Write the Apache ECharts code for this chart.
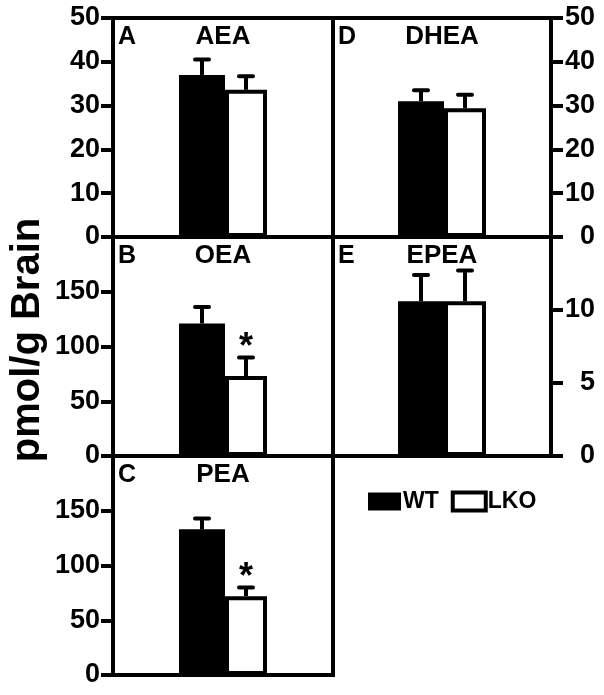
<!DOCTYPE html>
<html><head><meta charset="utf-8">
<script src="https://cdn.jsdelivr.net/npm/echarts@6/dist/echarts.min.js"></script>
<style>html,body{margin:0;padding:0;background:#fff}#c{width:604px;height:695px}</style>
</head><body><div id="c"></div>
<script>
// ---- data ----
const panels = ['AEA', 'OEA', 'PEA', 'DHEA', 'EPEA'];
const letters = ['A', 'B', 'C', 'D', 'E'];
const groups = ['WT', 'LKO'];
const wtMean = [37.0, 121, 133, 31.0, 10.6];
const wtSem = [3.5, 15, 10, 2.5, 1.8];
const lkoMean = [33.6, 73, 72, 29.4, 10.6];
const lkoSem = [3.1, 17, 8, 3.1, 2.1];
const axisMax = [50, 200, 200, 50, 15];
const axisInterval = [10, 50, 50, 10, 5];
const significant = [false, true, true, false, false];
const yAxisName = 'pmol/g Brain';

// ---- layout ----
const FONT = '"Liberation Sans", Arial, sans-serif';
const gridBoxes = [
  [113, 18, 220, 219], [113, 237, 220, 219], [113, 456, 220, 219],
  [333, 18, 218, 219], [333, 237, 218, 219]
];
const rightSide = [false, false, false, true, true];
const hideMax = [false, true, true, false, true];
const WT_W = 46, LKO_W = 42;
const offsets = [-(WT_W + LKO_W) / 2 + WT_W / 2, -(WT_W + LKO_W) / 2 + WT_W + LKO_W / 2];

const grid = [], xAxis = [], yAxis = [], series = [], graphic = [];
panels.forEach((p, i) => {
  const [l, t, w, h] = gridBoxes[i];
  grid.push({ left: l, top: t, width: w, height: h, show: true, borderColor: '#000', borderWidth: 4, backgroundColor: 'transparent' });
  xAxis.push({ gridIndex: i, type: 'category', data: [p], show: false });
  yAxis.push({
    gridIndex: i, type: 'value', min: 0, max: axisMax[i], interval: axisInterval[i],
    position: rightSide[i] ? 'right' : 'left',
    axisLine: { show: true, lineStyle: { color: '#000', width: 4 } },
    axisTick: { show: true, length: 12, lineStyle: { color: '#000', width: 4 } },
    splitLine: { show: false },
    axisLabel: {
      color: '#000', fontSize: 27, fontWeight: 'bold', fontFamily: FONT,
      margin: rightSide[i] ? 44 : 13, align: 'right',
      showMaxLabel: !hideMax[i]
    }
  });
  series.push({
    name: groups[0], type: 'bar', xAxisIndex: i, yAxisIndex: i, barWidth: WT_W, barGap: '0%',
    data: [wtMean[i]], itemStyle: { color: '#000' }, silent: true
  });
  series.push({
    name: groups[1], type: 'bar', xAxisIndex: i, yAxisIndex: i, barWidth: LKO_W, barGap: '0%',
    data: [lkoMean[i]], itemStyle: { color: '#fff', borderColor: '#000', borderWidth: 4 }, silent: true
  });
  series.push({
    type: 'custom', xAxisIndex: i, yAxisIndex: i, z: 5, silent: true,
    data: [[0, wtMean[i], wtSem[i], 0, 0], [0, lkoMean[i], lkoSem[i], 1, significant[i] ? 1 : 0]],
    renderItem: function (params, api) {
      const base = api.coord([api.value(0), api.value(1)]);
      const top = api.coord([api.value(0), api.value(1) + api.value(2)]);
      const x = base[0] + offsets[api.value(3)];
      const children = [
        { type: 'line', shape: { x1: x, y1: base[1], x2: x, y2: top[1] }, style: { stroke: '#000', lineWidth: 4 } },
        { type: 'line', shape: { x1: x - 7, y1: top[1], x2: x + 7, y2: top[1] }, style: { stroke: '#000', lineWidth: 4, lineCap: 'round' } }
      ];
      if (api.value(4)) {
        children.push({ type: 'text', x: x, y: top[1] - 9, style: { text: '*', fill: '#000', font: 'bold 36px ' + FONT, textAlign: 'center', textVerticalAlign: 'middle' } });
      }
      return { type: 'group', children: children };
    }
  });
  const cx = l + w / 2;
  graphic.push({ type: 'text', x: cx, y: t + 19, style: { text: p, fill: '#000', font: 'bold 26px ' + FONT, textAlign: 'center', textVerticalAlign: 'middle' } });
  graphic.push({ type: 'text', x: l + 5, y: t + 19, style: { text: letters[i], fill: '#000', font: 'bold 25px ' + FONT, textAlign: 'left', textVerticalAlign: 'middle' } });
});
graphic.push({ type: 'text', x: 28, y: 340, rotation: Math.PI / 2, style: { text: yAxisName, fill: '#000', font: 'bold 40px ' + FONT, textAlign: 'center', textVerticalAlign: 'middle' } });

const chart = echarts.init(document.getElementById('c'), null, { renderer: 'canvas' });
chart.setOption({
  animation: false,
  backgroundColor: '#fff',
  grid: grid, xAxis: xAxis, yAxis: yAxis, series: series, graphic: graphic,
  legend: {
    left: 363, top: 485, itemWidth: 33, itemHeight: 18, itemGap: 12, icon: 'rect',
    selectedMode: false,
    data: [
      { name: groups[0], itemStyle: { color: '#000', borderWidth: 0 } },
      { name: groups[1], itemStyle: { color: '#fff', borderColor: '#000', borderWidth: 4 } }
    ],
    textStyle: { color: '#000', fontSize: 23, fontWeight: 'bold', fontFamily: FONT, padding: [0, 0, 0, -3] }
  }
});
</script></body></html>
